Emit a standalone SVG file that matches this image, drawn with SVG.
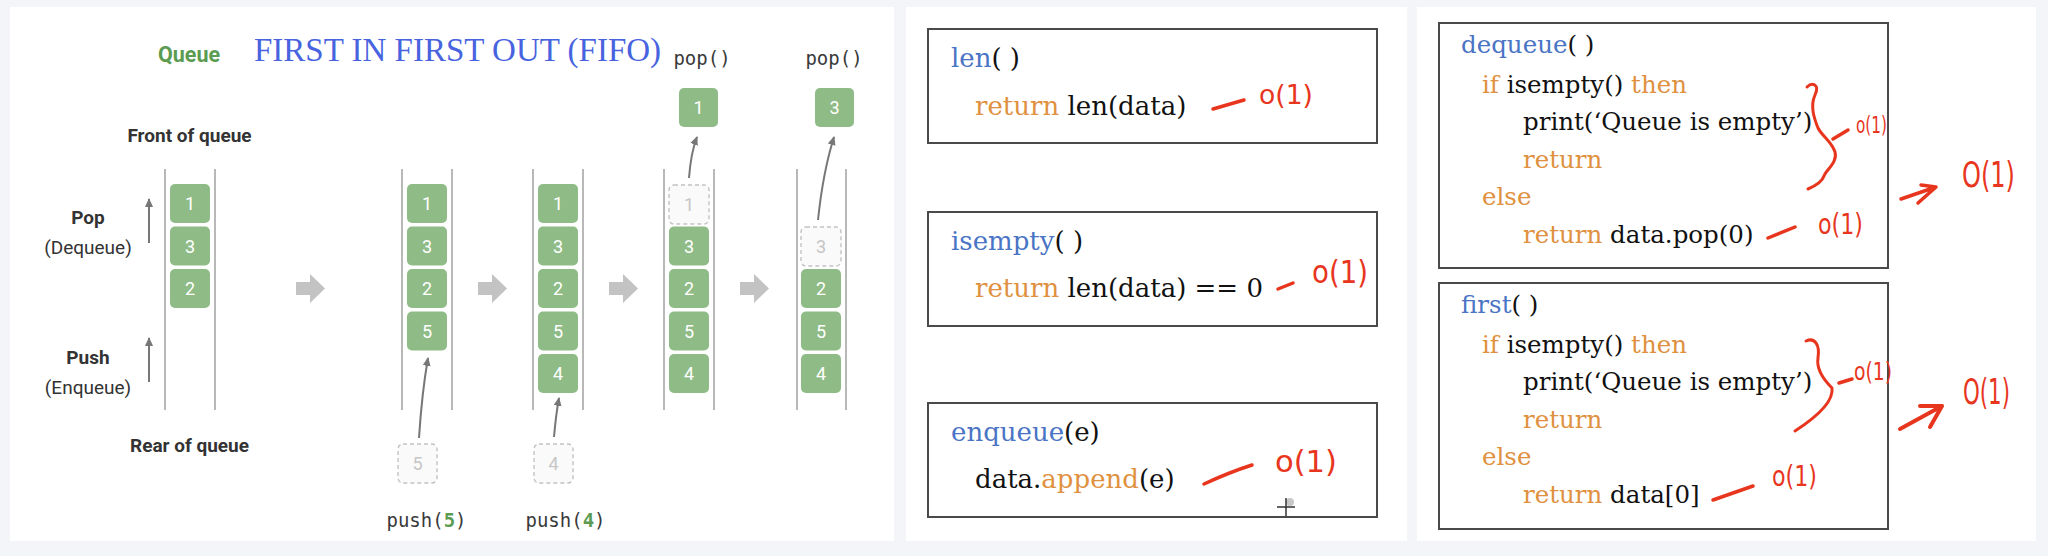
<svg xmlns="http://www.w3.org/2000/svg" width="2048" height="556" viewBox="0 0 2048 556">
<defs>
<style>
.bg{fill:#f3f5f8}
.panel{fill:#ffffff}
.lane{stroke:#9a9a9a;stroke-width:1.4;fill:none}
.box{fill:#8fbc86}
.ghost{fill:#fafafa;stroke:#c2c2c2;stroke-width:1.4;stroke-dasharray:4 3}
.num{fill:#ffffff;font-family:Roboto,"Liberation Sans",sans-serif;font-size:18px;text-anchor:middle}
.gnum{fill:#c6c6c6;font-family:Roboto,"Liberation Sans",sans-serif;font-size:18px;text-anchor:middle}
.lbl{fill:#333333;font-family:Roboto,"Liberation Sans",sans-serif;font-size:19px;font-weight:bold;text-anchor:middle}
.sub{fill:#333333;font-family:Roboto,"Liberation Sans",sans-serif;font-size:19px;text-anchor:middle}
.mono{fill:#3a3a3a;font-family:"DejaVu Sans Mono","Liberation Mono",monospace;font-size:19px;text-anchor:middle}
.garrow{stroke:#777777;stroke-width:2;fill:none}
.fat{fill:#c3c3c3}
.code{fill:#111111;font-family:"DejaVu Serif","Liberation Serif",serif}
.c2{font-size:26px}
.c3{font-size:24.5px}
.fn{fill:#4a74c4}
.kw{fill:#e0913f}
.cbox{fill:#ffffff;stroke:#4a4a4a;stroke-width:2}
.red{stroke:#e8361e;stroke-width:3.5;fill:none;stroke-linecap:round;stroke-linejoin:round}
.redt{fill:#e8361e;font-family:"DejaVu Sans","Liberation Sans",sans-serif}
</style>
<marker id="ah" markerWidth="10" markerHeight="10" refX="8" refY="4" orient="auto" markerUnits="userSpaceOnUse">
<path d="M0,0 L9,4 L0,8 Z" fill="#777777"/>
</marker>
</defs>

<rect class="bg" x="0" y="0" width="2048" height="556"/>
<rect class="panel" x="10" y="7" width="884" height="534"/>
<rect class="panel" x="906" y="7" width="501" height="534"/>
<rect class="panel" x="1417" y="7" width="619" height="534"/>

<!-- Panel 1 titles and labels -->
<g id="titles">
<text x="158" y="62" style="fill:#5b9b52;font-family:Roboto,'Liberation Sans',sans-serif;font-size:21.5px;font-weight:bold">Queue</text>
<text x="254" y="61" style="fill:#4863e0;font-family:'Liberation Serif',serif;font-size:33px">FIRST IN FIRST OUT (FIFO)</text>
<text class="mono" x="702" y="65">pop()</text>
<text class="mono" x="834" y="65">pop()</text>
<text class="lbl" x="189.5" y="142">Front of queue</text>
<text class="lbl" x="88" y="224">Pop</text>
<text class="sub" x="88" y="254">(Dequeue)</text>
<text class="lbl" x="88" y="364">Push</text>
<text class="sub" x="88" y="394">(Enqueue)</text>
<text class="lbl" x="189.5" y="452">Rear of queue</text>
<text class="mono" x="426.5" y="527">push(<tspan style="fill:#5b9b52;font-weight:bold">5</tspan>)</text>
<text class="mono" x="565.5" y="527">push(<tspan style="fill:#5b9b52;font-weight:bold">4</tspan>)</text>
</g>

<!-- Column 1 -->
<g id="col1">
<line class="lane" x1="165" y1="169" x2="165" y2="410"/>
<line class="lane" x1="215" y1="169" x2="215" y2="410"/>
<rect class="box" x="170" y="184" width="40" height="39" rx="5"/><text class="num" x="190" y="210">1</text>
<rect class="box" x="170" y="226.5" width="40" height="39" rx="5"/><text class="num" x="190" y="252.5">3</text>
<rect class="box" x="170" y="269" width="40" height="39" rx="5"/><text class="num" x="190" y="295">2</text>
</g>

<!-- Column 2 -->
<g id="col2">
<line class="lane" x1="402" y1="169" x2="402" y2="410"/>
<line class="lane" x1="452" y1="169" x2="452" y2="410"/>
<rect class="box" x="407" y="184" width="40" height="39" rx="5"/><text class="num" x="427" y="210">1</text>
<rect class="box" x="407" y="226.5" width="40" height="39" rx="5"/><text class="num" x="427" y="252.5">3</text>
<rect class="box" x="407" y="269" width="40" height="39" rx="5"/><text class="num" x="427" y="295">2</text>
<rect class="box" x="407" y="311.5" width="40" height="39" rx="5"/><text class="num" x="427" y="337.5">5</text>
</g>

<!-- Column 3 -->
<g id="col3">
<line class="lane" x1="533" y1="169" x2="533" y2="410"/>
<line class="lane" x1="583" y1="169" x2="583" y2="410"/>
<rect class="box" x="538" y="184" width="40" height="39" rx="5"/><text class="num" x="558" y="210">1</text>
<rect class="box" x="538" y="226.5" width="40" height="39" rx="5"/><text class="num" x="558" y="252.5">3</text>
<rect class="box" x="538" y="269" width="40" height="39" rx="5"/><text class="num" x="558" y="295">2</text>
<rect class="box" x="538" y="311.5" width="40" height="39" rx="5"/><text class="num" x="558" y="337.5">5</text>
<rect class="box" x="538" y="354" width="40" height="39" rx="5"/><text class="num" x="558" y="380">4</text>
</g>

<!-- Column 4 -->
<g id="col4">
<line class="lane" x1="664" y1="169" x2="664" y2="410"/>
<line class="lane" x1="714" y1="169" x2="714" y2="410"/>
<rect class="ghost" x="669" y="185" width="40" height="39" rx="5"/><text class="gnum" x="689" y="211">1</text>
<rect class="box" x="669" y="226.5" width="40" height="39" rx="5"/><text class="num" x="689" y="252.5">3</text>
<rect class="box" x="669" y="269" width="40" height="39" rx="5"/><text class="num" x="689" y="295">2</text>
<rect class="box" x="669" y="311.5" width="40" height="39" rx="5"/><text class="num" x="689" y="337.5">5</text>
<rect class="box" x="669" y="354" width="40" height="39" rx="5"/><text class="num" x="689" y="380">4</text>
</g>

<!-- Column 5 -->
<g id="col5">
<line class="lane" x1="797" y1="169" x2="797" y2="410"/>
<line class="lane" x1="846" y1="169" x2="846" y2="410"/>
<rect class="ghost" x="801" y="227" width="40" height="39" rx="5"/><text class="gnum" x="821" y="253">3</text>
<rect class="box" x="801" y="269" width="40" height="39" rx="5"/><text class="num" x="821" y="295">2</text>
<rect class="box" x="801" y="311.5" width="40" height="39" rx="5"/><text class="num" x="821" y="337.5">5</text>
<rect class="box" x="801" y="354" width="40" height="39" rx="5"/><text class="num" x="821" y="380">4</text>
</g>

<!-- popped and pushed items -->
<g id="popped1"><rect class="box" x="679" y="88" width="39" height="39" rx="5"/><text class="num" x="698.5" y="114">1</text></g>
<g id="popped3"><rect class="box" x="815" y="88" width="39" height="39" rx="5"/><text class="num" x="834.5" y="114">3</text></g>
<g id="push5"><rect class="ghost" x="398" y="444" width="39" height="39" rx="5"/><text class="gnum" x="417.5" y="470">5</text></g>
<g id="push4"><rect class="ghost" x="534" y="444" width="39" height="39" rx="5"/><text class="gnum" x="553.5" y="470">4</text></g>

<!-- connectors -->
<g id="connectors">
<path class="garrow" d="M149,243 L149,199" marker-end="url(#ah)"/>
<path class="garrow" d="M149,382 L149,338" marker-end="url(#ah)"/>
<path class="garrow" d="M689,178 Q691,152 697,137" marker-end="url(#ah)"/>
<path class="garrow" d="M818,220 Q823,172 834,137" marker-end="url(#ah)"/>
<path class="garrow" d="M419,438 Q422,392 428,358" marker-end="url(#ah)"/>
<path class="garrow" d="M554,437 Q556,414 559,398" marker-end="url(#ah)"/>
<path class="fat" d="M296,282 L310,282 L310,274 L325,288.5 L310,303 L310,295 L296,295 Z"/>
<path class="fat" d="M478,282 L492,282 L492,274 L507,288.5 L492,303 L492,295 L478,295 Z"/>
<path class="fat" d="M609,282 L623,282 L623,274 L638,288.5 L623,303 L623,295 L609,295 Z"/>
<path class="fat" d="M740,282 L754,282 L754,274 L769,288.5 L754,303 L754,295 L740,295 Z"/>
</g>

<!-- Panel 2 code boxes -->
<g id="len">
<rect class="cbox" x="928" y="29" width="449" height="114"/>
<text class="code c2" x="951" y="67"><tspan class="fn">len</tspan>( )</text>
<text class="code c2" x="975" y="115"><tspan class="kw">return</tspan> len(data)</text>
</g>
<g id="isempty">
<rect class="cbox" x="928" y="212" width="449" height="114"/>
<text class="code c2" x="951" y="250"><tspan class="fn">isempty</tspan>( )</text>
<text class="code c2" x="975" y="297"><tspan class="kw">return</tspan> len(data) == 0</text>
</g>
<g id="enqueue">
<rect class="cbox" x="928" y="403" width="449" height="114"/>
<text class="code c2" x="951" y="441"><tspan class="fn">enqueue</tspan>(e)</text>
<text class="code c2" x="975" y="488">data.<tspan class="kw">append</tspan>(e)</text>
</g>

<!-- Panel 3 code boxes -->
<g id="dequeue">
<rect class="cbox" x="1439" y="23" width="449" height="245"/>
<text class="code c3" x="1461" y="53"><tspan class="fn">dequeue</tspan>( )</text>
<text class="code c3" x="1482" y="93"><tspan class="kw">if</tspan> isempty() <tspan class="kw">then</tspan></text>
<text class="code c3" x="1523" y="130">print(‘Queue is empty’)</text>
<text class="code c3 kw" x="1523" y="168">return</text>
<text class="code c3 kw" x="1482" y="205">else</text>
<text class="code c3" x="1523" y="243"><tspan class="kw">return</tspan> data.pop(0)</text>
</g>
<g id="first">
<rect class="cbox" x="1439" y="283" width="449" height="246"/>
<text class="code c3" x="1461" y="313"><tspan class="fn">first</tspan>( )</text>
<text class="code c3" x="1482" y="353"><tspan class="kw">if</tspan> isempty() <tspan class="kw">then</tspan></text>
<text class="code c3" x="1523" y="390">print(‘Queue is empty’)</text>
<text class="code c3 kw" x="1523" y="428">return</text>
<text class="code c3 kw" x="1482" y="465">else</text>
<text class="code c3" x="1523" y="503"><tspan class="kw">return</tspan> data[0]</text>
</g>

<!-- red handwritten annotations -->
<g id="annotations">
<path class="red" d="M1213,109 L1244,100"/>
<text class="redt" x="1259" y="104" font-size="26" textLength="54" lengthAdjust="spacingAndGlyphs">o(1)</text>
<path class="red" d="M1278,289 L1293,283"/>
<text class="redt" x="1312" y="283" font-size="32" textLength="56" lengthAdjust="spacingAndGlyphs">o(1)</text>
<path class="red" d="M1204,484 Q1230,472 1252,465"/>
<text class="redt" x="1275" y="472" font-size="30" textLength="62" lengthAdjust="spacingAndGlyphs">o(1)</text>

<path class="red" style="stroke-width:3" d="M1807,87 C1812,82 1820,84 1815,95 C1810,106 1814,118 1818,128 C1822,136 1832,142 1835,152 C1838,162 1826,170 1824,176 C1822,182 1815,186 1808,189"/>
<path class="red" d="M1833,139 L1848,130"/>
<text class="redt" x="1856" y="133" font-size="23" textLength="31" lengthAdjust="spacingAndGlyphs">o(1)</text>
<path class="red" d="M1901,199 L1936,187 M1921,185 L1936,187 L1918,203"/>
<text class="redt" x="1962" y="187" font-size="36" textLength="53" lengthAdjust="spacingAndGlyphs">O(1)</text>
<path class="red" d="M1768,238 L1795,227"/>
<text class="redt" x="1818" y="234" font-size="28" textLength="45" lengthAdjust="spacingAndGlyphs">o(1)</text>

<path class="red" style="stroke-width:3" d="M1806,341 C1815,337 1820,345 1818,358 C1816,370 1824,380 1832,388 C1834,402 1815,418 1795,431"/>
<path class="red" d="M1839,383 L1852,379"/>
<text class="redt" x="1854" y="380" font-size="25" textLength="38" lengthAdjust="spacingAndGlyphs">o(1)</text>
<path class="red" style="stroke-width:4" d="M1900,429 L1942,406 M1920,406 L1942,406 L1930,427"/>
<text class="redt" x="1963" y="404" font-size="35" textLength="47" lengthAdjust="spacingAndGlyphs">O(1)</text>
<path class="red" d="M1713,500 L1753,486"/>
<text class="redt" x="1772" y="486" font-size="28" textLength="45" lengthAdjust="spacingAndGlyphs">o(1)</text>
</g>

<!-- mouse cursor -->
<g id="cursor">
<circle cx="1290" cy="502" r="4" fill="#c8c8c8"/>
<path d="M1277,507 L1295,507 M1286,498 L1286,516" stroke="#333333" stroke-width="1.5" fill="none"/>
</g>
</svg>
